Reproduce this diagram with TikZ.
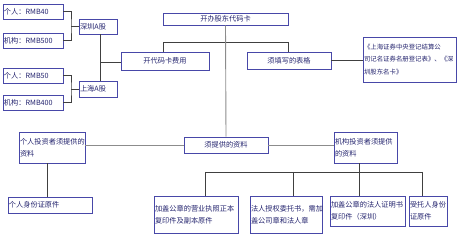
\documentclass[tikz,border=0pt]{standalone}
\usepackage{fontspec}
\setmainfont{Noto Sans CJK SC}
\definecolor{boxblue}{RGB}{72,72,168}
\definecolor{txtblue}{RGB}{36,36,110}

\begin{document}
\begin{tikzpicture}[x=1pt,y=-1pt,
  box/.style={draw=boxblue,line width=0.8pt,text=txtblue,inner sep=1pt,font=\fontsize{7.2}{12}\selectfont},
  cbox/.style={box,align=center},
  lbox/.style={box,align=left},
  dline/.style={draw=black!75,line width=0.8pt},
  lline/.style={draw=black!45,line width=0.9pt}]
  \useasboundingbox (0,0) rectangle (460,240);
  \node[cbox,minimum width=125pt,minimum height=12pt] (card) at (225.5,19) {开办股东代码卡};
  \node[cbox,minimum width=88pt,minimum height=18pt] (fee) at (165,61) {开代码卡费用};
  \node[cbox,minimum width=84pt,minimum height=17pt] (form) at (289,60.5) {须填写的表格};
  \node[lbox,text width=91pt,minimum height=45pt,font=\fontsize{6.4}{12.5}\selectfont] (forms) at (409.5,59.5) {《上海证券中央登记结算公\\司记名证券名册登记表》、《深\\圳股东名卡》};
  \node[lbox,text width=36pt,minimum height=15pt] (sz) at (98,26.5) {深圳A股};
  \node[lbox,text width=36pt,minimum height=16pt] (sh) at (98,89) {上海A股};
  \node[lbox,text width=58pt,minimum height=15pt] (p40) at (33,11.5) {个人：RMB40};
  \node[lbox,text width=58pt,minimum height=15pt] (o500) at (33,40.5) {机构：RMB500};
  \node[lbox,text width=58pt,minimum height=15pt] (p50) at (33,75.5) {个人：RMB50};
  \node[lbox,text width=58pt,minimum height=15pt] (o400) at (33,102.5) {机构：RMB400};
  \node[cbox,minimum width=84pt,minimum height=16pt] (need) at (226,145) {须提供的资料};
  \node[lbox,text width=64pt,minimum height=31pt] (indiv) at (52,147.5) {个人投资者须提供的\\资料};
  \node[lbox,text width=61pt,minimum height=31pt] (inst) at (365.5,147.5) {机构投资者须提供\\的资料};
  \node[lbox,text width=82pt,minimum height=16pt] (idcard) at (50,205) {个人身份证原件};
  \node[lbox,text width=82pt,minimum height=37pt] (lic) at (196,214.5) {加盖公章的营业执照正本\\复印件及副本原件};
  \node[lbox,text width=70pt,minimum height=37pt] (auth) at (286,214.5) {法人授权委托书，需加\\盖公司章和法人章};
  \node[lbox,text width=73pt,minimum height=30pt] (cert) at (367.5,211) {加盖公章的法人证明书\\复印件（深圳）};
  \node[lbox,text width=36pt,minimum height=30pt] (agent) at (428,211) {受托人身份\\证原件};
  \coordinate (j1) at (71,26.5);
  \coordinate (j2) at (71,89);
  \coordinate (j3) at (100,62);
  \coordinate (t1) at (163,42);
  \coordinate (t2) at (288,42);
  \coordinate (b1) at (205,172);
  \coordinate (b2) at (293,172);
  \coordinate (b3) at (359,172);
  \coordinate (b4) at (422,172);
  \draw[dline] (p40.east) -| (j1) |- (o500.east);
  \draw[dline] (j1) -- (sz.west);
  \draw[dline] (p50.east) -| (j2) |- (o400.east);
  \draw[dline] (j2) -- (sh.west);
  \draw[dline] (j3 |- sz.south) -- (j3 |- sh.north);
  \draw[dline] (j3) -- (j3 -| fee.west);
  \draw[dline] (t1 |- fee.north) -- (t1) -- (t2) -- (t2 |- form.north);
  \draw[dline] (form.east) -- (form.east -| forms.west);
  \draw[lline] (card.south) -- (need.north);
  \draw[lline] (indiv.east |- need.west) -- (need.west);
  \draw[lline] (need.east) -- (need.east -| inst.west);
  \draw[dline] ([xshift=-5pt]indiv.south) -- ([xshift=-5pt]indiv.south |- idcard.north);
  \draw[dline] (inst.south -| b3) -- (b3);
  \draw[dline] (b1) -- (b4);
  \draw[dline] (b1) -- (b1 |- lic.north);
  \draw[dline] (b2) -- (b2 |- auth.north);
  \draw[dline] (b3) -- (b3 |- cert.north);
  \draw[dline] (b4) -- (b4 |- agent.north);
\end{tikzpicture}
\end{document}
